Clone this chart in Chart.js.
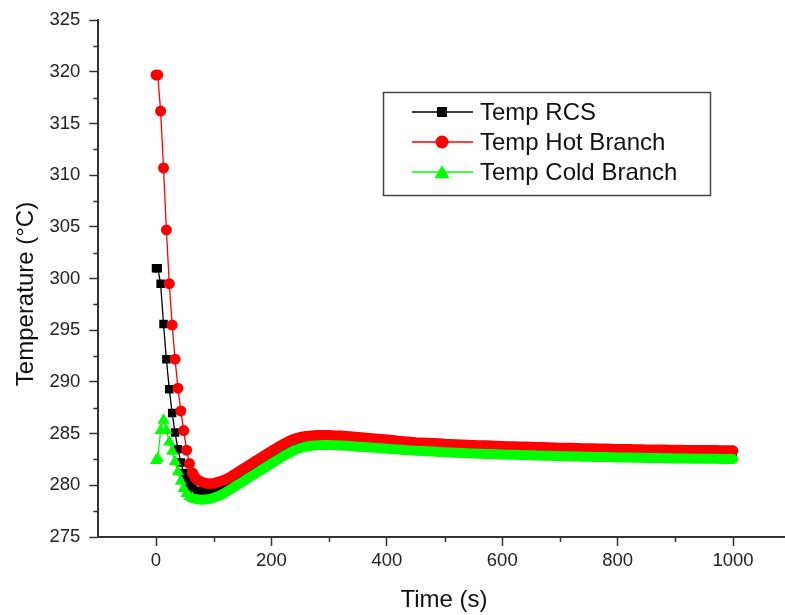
<!DOCTYPE html>
<html><head><meta charset="utf-8">
<script src="https://cdn.jsdelivr.net/npm/chart.js@4/dist/chart.umd.min.js"></script>
<style>html,body{margin:0;padding:0;background:#fff;overflow:hidden}#wrap{width:785px;height:615px;position:relative}</style>
</head><body><div id="wrap"><canvas id="c" width="785" height="615"></canvas></div>
<script>
const TIME = [0,3,8,13,18,23,28,33,38,43,
  48,53,58,63,70,80,90,100,110,120,
  130,140,150,160,170,180,190,200,210,220,
  230,240,250,260,270,280,290,300,310,320,
  330,340,350,360,370,380,390,400,410,420,
  430,440,450,460,470,480,490,500,510,520,
  530,540,550,560,570,580,590,600,610,620,
  630,640,650,660,670,680,690,700,710,720,
  730,740,750,760,770,780,790,800,810,820,
  830,840,850,860,870,880,890,900,910,920,
  930,940,950,960,970,980,990,1000];
const TEMP_RCS = [301.0,301.0,299.5,295.6,292.2,289.3,287.0,285.1,283.5,282.2,
  281.2,280.5,280.0,279.7,279.5,279.45,279.45,279.55,279.7,279.95,
  280.25,280.6,280.95,281.3,281.65,282.0,282.35,282.7,283.05,283.35,
  283.65,283.95,284.1,284.25,284.3,284.35,284.37,284.37,284.34,284.32,
  284.28,284.24,284.2,284.15,284.1,284.06,284.01,283.97,283.92,283.88,
  283.83,283.79,283.75,283.71,283.69,283.66,283.63,283.6,283.58,283.55,
  283.53,283.5,283.48,283.46,283.44,283.42,283.4,283.38,283.36,283.35,
  283.33,283.32,283.3,283.28,283.27,283.25,283.24,283.22,283.21,283.2,
  283.18,283.17,283.16,283.15,283.14,283.13,283.12,283.1,283.09,283.08,
  283.07,283.06,283.05,283.04,283.04,283.03,283.02,283.01,283.01,283.0,
  283.0,282.99,282.99,282.98,282.98,282.97,282.97,282.96];
const TEMP_HOT = [319.7,319.7,316.2,310.7,304.7,299.5,295.5,292.2,289.4,287.2,
  285.3,283.4,282.1,281.2,280.6,280.3,280.15,280.2,280.35,280.55,
  280.85,281.2,281.55,281.9,282.25,282.6,282.95,283.3,283.65,283.95,
  284.25,284.5,284.65,284.75,284.8,284.85,284.85,284.85,284.8,284.8,
  284.75,284.7,284.65,284.6,284.55,284.5,284.45,284.4,284.35,284.3,
  284.25,284.2,284.15,284.12,284.1,284.07,284.04,284.0,283.98,283.95,
  283.93,283.9,283.88,283.86,283.84,283.82,283.8,283.78,283.76,283.75,
  283.73,283.72,283.7,283.68,283.67,283.65,283.64,283.62,283.61,283.6,
  283.58,283.57,283.56,283.55,283.54,283.53,283.52,283.5,283.49,283.48,
  283.47,283.46,283.45,283.44,283.44,283.43,283.42,283.41,283.41,283.4,
  283.4,283.39,283.39,283.38,283.38,283.37,283.37,283.36];
const TEMP_COLD = [282.4,282.6,285.3,286.3,285.3,284.2,283.3,282.3,281.3,280.4,
  279.7,279.2,278.9,278.75,278.65,278.6,278.65,278.8,279.0,279.3,
  279.65,280.0,280.35,280.7,281.05,281.4,281.75,282.1,282.45,282.8,
  283.1,283.4,283.6,283.75,283.82,283.87,283.9,283.9,283.87,283.85,
  283.82,283.78,283.74,283.7,283.66,283.62,283.58,283.54,283.5,283.46,
  283.42,283.38,283.34,283.31,283.29,283.26,283.23,283.2,283.18,283.15,
  283.13,283.1,283.08,283.06,283.04,283.02,283.0,282.98,282.96,282.95,
  282.93,282.91,282.9,282.88,282.87,282.85,282.84,282.82,282.81,282.8,
  282.78,282.77,282.76,282.75,282.74,282.73,282.72,282.7,282.69,282.68,
  282.67,282.66,282.65,282.64,282.63,282.62,282.61,282.6,282.6,282.59,
  282.58,282.58,282.57,282.56,282.56,282.55,282.55,282.54];
const SERIES_NAMES = ['Temp RCS','Temp Hot Branch','Temp Cold Branch'];
const X_TICKS = [0,200,400,600,800,1000];
const Y_TICKS = [275,280,285,290,295,300,305,310,315,320,325];
const X_TITLE = 'Time (s)';
const Y_TITLE = 'Temperature (\u00B0C)';

const FONT = '"Liberation Sans", Arial, Helvetica, sans-serif';
const AXIS = '#333333';
const MARK_END = 63; // sparse markers up to this time, dense band after

function pts(vals){ return TIME.map((t,i)=>({x:t,y:vals[i]})); }
function makeDs(label, vals, color, style, r, band, order){
  return {
    label, data: pts(vals), order,
    borderColor: color, backgroundColor: color,
    pointBackgroundColor: color, pointBorderColor: color, pointBorderWidth: 0,
    pointStyle: style,
    pointRadius: c => (TIME[c.dataIndex] <= MARK_END ? r : 0),
    pointHoverRadius: 0,
    borderWidth: 1.3,
    borderJoinStyle: 'round', borderCapStyle: 'round',
    tension: 0,
    segment: { borderWidth: c => (c.p0.parsed.x >= MARK_END ? band : 1.3) },
    legendStyle: style
  };
}

const minorTicks = {
  id: 'minorTicks',
  afterDraw(chart){
    const {ctx, scales:{x, y}} = chart;
    ctx.save();
    ctx.strokeStyle = AXIS; ctx.lineWidth = 1.5;
    ctx.beginPath();
    for (let v = 277.5; v < 325; v += 5){
      const py = Math.round(y.getPixelForValue(v)) + 0.5;
      ctx.moveTo(x.left - 5, py); ctx.lineTo(x.left, py);
    }
    for (let v = 100; v <= x.max; v += 200){
      const px = Math.round(x.getPixelForValue(v)) + 0.5;
      ctx.moveTo(px, y.bottom); ctx.lineTo(px, y.bottom + 5);
    }
    ctx.stroke();
    // axis titles
    ctx.fillStyle = '#111';
    ctx.font = '24px ' + FONT;
    ctx.textAlign = 'center'; ctx.textBaseline = 'middle';
    ctx.fillText(X_TITLE, 444, 600);
    ctx.translate(26, 294); ctx.rotate(-Math.PI/2);
    ctx.fillText(Y_TITLE, 0, 0);
    ctx.restore();
  }
};

function drawMarker(ctx, style, x, y, r){
  ctx.beginPath();
  if (style === 'circle'){ ctx.arc(x, y, r, 0, Math.PI*2); }
  else if (style === 'rect'){ ctx.rect(x - r, y - r, 2*r, 2*r); }
  else { ctx.moveTo(x, y - r*1.05); ctx.lineTo(x + r*1.15, y + r*0.95); ctx.lineTo(x - r*1.15, y + r*0.95); ctx.closePath(); }
  ctx.fill();
}

const boxLegend = {
  id: 'boxLegend',
  afterDraw(chart){
    const ctx = chart.ctx;
    ctx.save();
    ctx.strokeStyle = '#444'; ctx.lineWidth = 1.5;
    ctx.strokeRect(383.5, 92.5, 327, 103);
    const sizes = {rect: 5, circle: 6.5, triangle: 6.5};
    chart.data.datasets.forEach((ds, i) => {
      const yy = 112 + i*30;
      ctx.strokeStyle = ds.borderColor; ctx.lineWidth = 1.5;
      ctx.beginPath(); ctx.moveTo(412, yy); ctx.lineTo(473, yy); ctx.stroke();
      ctx.fillStyle = ds.borderColor;
      drawMarker(ctx, ds.legendStyle, 442, yy, sizes[ds.legendStyle]);
      ctx.fillStyle = '#111';
      ctx.font = '24px ' + FONT;
      ctx.textAlign = 'left'; ctx.textBaseline = 'middle';
      ctx.fillText(ds.label, 480, yy + 1);
    });
    ctx.restore();
  }
};

new Chart(document.getElementById('c'), {
  type: 'line',
  data: { datasets: [
    makeDs(SERIES_NAMES[0], TEMP_RCS, '#000000', 'rect', 6, 8.5, 3),
    makeDs(SERIES_NAMES[1], TEMP_HOT, '#ff0000', 'circle', 5.5, 10.5, 2),
    makeDs(SERIES_NAMES[2], TEMP_COLD, '#00ff00', 'triangle', 7, 10, 1)
  ]},
  options: {
    responsive: false, animation: false, devicePixelRatio: 1,
    layout: { autoPadding: false, padding: { top: 19, right: 0, bottom: 0, left: 0 } },
    plugins: { legend: { display: false }, tooltip: { enabled: false } },
    scales: {
      x: {
        type: 'linear', min: -100, max: 1090,
        afterBuildTicks: s => { s.ticks = X_TICKS.map(v => ({value: v})); },
        afterFit: s => { s.height = 78; },
        grid: { drawOnChartArea: false, drawTicks: true, tickLength: 9, tickColor: AXIS, tickWidth: 1.5 },
        border: { display: true, color: AXIS, width: 2 },
        ticks: { color: '#222', font: { family: FONT, size: 18.5 }, padding: 4, maxRotation: 0, autoSkip: false,
                 callback: v => String(v) }
      },
      y: {
        type: 'linear', min: 275, max: 325,
        afterBuildTicks: s => { s.ticks = Y_TICKS.map(v => ({value: v})); },
        afterFit: s => { s.width = 98.3; },
        grid: { drawOnChartArea: false, drawTicks: true, tickLength: 9, tickColor: AXIS, tickWidth: 1.5 },
        border: { display: true, color: AXIS, width: 2 },
        ticks: { color: '#222', font: { family: FONT, size: 18.5 }, padding: 9, autoSkip: false,
                 callback: v => String(v) }
      }
    }
  },
  plugins: [minorTicks, boxLegend]
});
</script></body></html>
